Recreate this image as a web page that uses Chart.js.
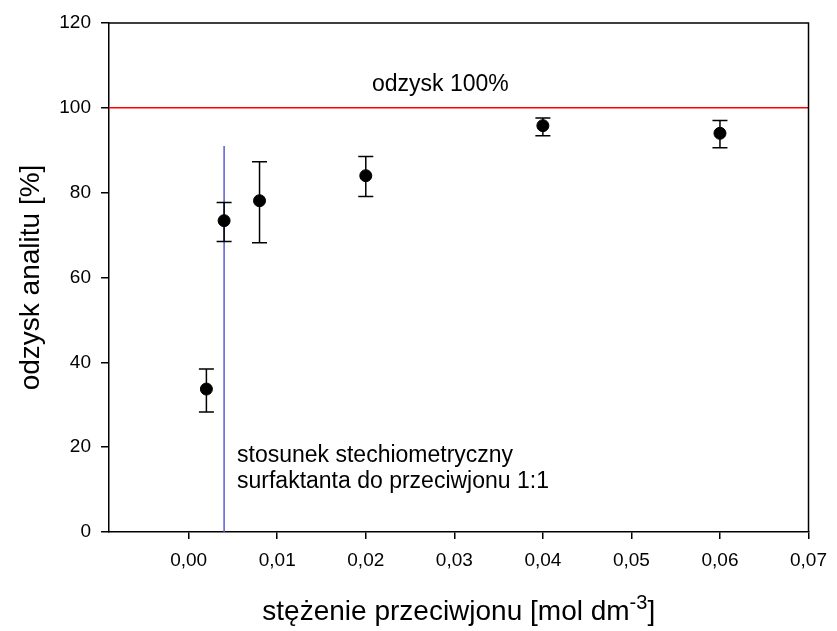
<!DOCTYPE html>
<html>
<head>
<meta charset="utf-8">
<script src="https://cdn.jsdelivr.net/npm/chart.js@4/dist/chart.umd.min.js"></script>
<style>
html,body{margin:0;padding:0;background:#fff;}
#wrap{width:837px;height:631px;position:relative;}
</style>
</head>
<body>
<div id="wrap"><canvas id="c" width="837" height="631"></canvas></div>
<script>
// Data
const xValues = [0.002, 0.004, 0.008, 0.02, 0.04, 0.06];
const yValues = [33.7, 73.4, 78.1, 84.0, 95.8, 94.0];
const yErrHigh = [38.4, 77.7, 87.3, 88.5, 97.6, 97.0];
const yErrLow = [28.3, 68.5, 68.2, 79.1, 93.4, 90.6];
const xTicks = [0, 0.01, 0.02, 0.03, 0.04, 0.05, 0.06, 0.07];
const yTicks = [0, 20, 40, 60, 80, 100, 120];
const refLineX = [-0.009, 0.07];
const refLineY = [100, 100];
const stoichX = [0.004, 0.004];
const stoichY = [0, 91];

const FONT = "'Liberation Sans', Arial, Helvetica, sans-serif";

const errorBarPlugin = {
  id: 'errorBars',
  beforeDatasetDraw(chart, args) {
    if (args.index !== 0) return;
    const ctx = chart.ctx, xs = chart.scales.x, ys = chart.scales.y;
    ctx.save();
    ctx.strokeStyle = '#000';
    ctx.lineWidth = 1.5;
    for (let i = 0; i < xValues.length; i++) {
      const px = xs.getPixelForValue(xValues[i]);
      const pt = ys.getPixelForValue(yErrHigh[i]);
      const pb = ys.getPixelForValue(yErrLow[i]);
      ctx.beginPath();
      ctx.moveTo(px, pt); ctx.lineTo(px, pb);
      ctx.moveTo(px - 7.5, pt); ctx.lineTo(px + 7.5, pt);
      ctx.moveTo(px - 7.5, pb); ctx.lineTo(px + 7.5, pb);
      ctx.stroke();
    }
    ctx.restore();
  }
};

const decoPlugin = {
  id: 'deco',
  afterDraw(chart) {
    const ctx = chart.ctx, a = chart.chartArea, xs = chart.scales.x, ys = chart.scales.y;
    ctx.save();
    // frame top/right
    ctx.strokeStyle = '#000';
    ctx.lineWidth = 1.5;
    ctx.beginPath();
    ctx.moveTo(a.left, a.top); ctx.lineTo(a.right, a.top); ctx.lineTo(a.right, a.bottom);
    ctx.stroke();
    ctx.fillStyle = '#000';
    // annotations
    ctx.font = '23px ' + FONT;
    ctx.textAlign = 'left';
    ctx.textBaseline = 'alphabetic';
    ctx.fillText('odzysk 100%', 372, 91);
    ctx.fillText('stosunek stechiometryczny', 237, 462);
    ctx.fillText('surfaktanta do przeciwjonu 1:1', 237, 488);
    // y title
    ctx.save();
    ctx.translate(31, (a.top + a.bottom) / 2);
    ctx.rotate(-Math.PI / 2);
    ctx.font = '28px ' + FONT;
    ctx.textAlign = 'center';
    ctx.textBaseline = 'middle';
    ctx.fillText('odzysk analitu [%]', 0, 0);
    ctx.restore();
    // x title with superscript
    const main = 'stężenie przeciwjonu [mol dm';
    const sup = '-3';
    const end = ']';
    ctx.font = '28px ' + FONT;
    const w1 = ctx.measureText(main).width;
    const w3 = ctx.measureText(end).width;
    ctx.font = '20px ' + FONT;
    const w2 = ctx.measureText(sup).width;
    const total = w1 + w2 + w3;
    let x0 = (a.left + a.right) / 2 - total / 2;
    const base = 620;
    ctx.textAlign = 'left';
    ctx.font = '28px ' + FONT;
    ctx.fillText(main, x0, base);
    ctx.font = '20px ' + FONT;
    ctx.fillText(sup, x0 + w1, base - 11);
    ctx.font = '28px ' + FONT;
    ctx.fillText(end, x0 + w1 + w2, base);
    ctx.restore();
  }
};

const fmt = v => Number(v).toFixed(2).replace('.', ',');

new Chart(document.getElementById('c'), {
  type: 'scatter',
  data: {
    datasets: [
      {
        data: xValues.map((x, i) => ({x: x, y: yValues[i]})),
        backgroundColor: '#000', borderColor: '#000',
        pointRadius: 6, pointHoverRadius: 6, showLine: false, order: 0
      },
      {
        data: refLineX.map((x, i) => ({x: x, y: refLineY[i]})),
        showLine: true, borderColor: '#ff0000', borderWidth: 1.5, pointRadius: 0, order: 2
      },
      {
        data: stoichX.map((x, i) => ({x: x, y: stoichY[i]})),
        showLine: true, borderColor: '#5a5ad6', borderWidth: 1.5, pointRadius: 0, order: 1
      }
    ]
  },
  options: {
    responsive: false,
    animation: false,
    events: [],
    layout: {padding: {left: 0, right: 20, top: 23, bottom: 0}},
    plugins: {legend: {display: false}, tooltip: {enabled: false}},
    scales: {
      x: {
        type: 'linear', min: -0.009, max: 0.07,
        afterBuildTicks(scale) { scale.ticks = xTicks.map(v => ({value: v})); },
        afterFit(scale) { scale.height = 631 - 532; },
        ticks: {color: '#000', font: {family: FONT, size: 19}, padding: 10, callback: fmt, maxRotation: 0, autoSkip: false},
        grid: {drawOnChartArea: false, tickLength: 7, color: '#000', lineWidth: 1.5},
        border: {color: '#000', width: 1.5}
      },
      y: {
        type: 'linear', min: 0, max: 120,
        afterBuildTicks(scale) { scale.ticks = yTicks.map(v => ({value: v})); },
        afterFit(scale) { scale.width = 109; },
        ticks: {color: '#000', font: {family: FONT, size: 19}, padding: 10},
        grid: {drawOnChartArea: false, tickLength: 8, color: '#000', lineWidth: 1.5},
        border: {color: '#000', width: 1.5}
      }
    }
  },
  plugins: [errorBarPlugin, decoPlugin]
});
</script>
</body>
</html>
